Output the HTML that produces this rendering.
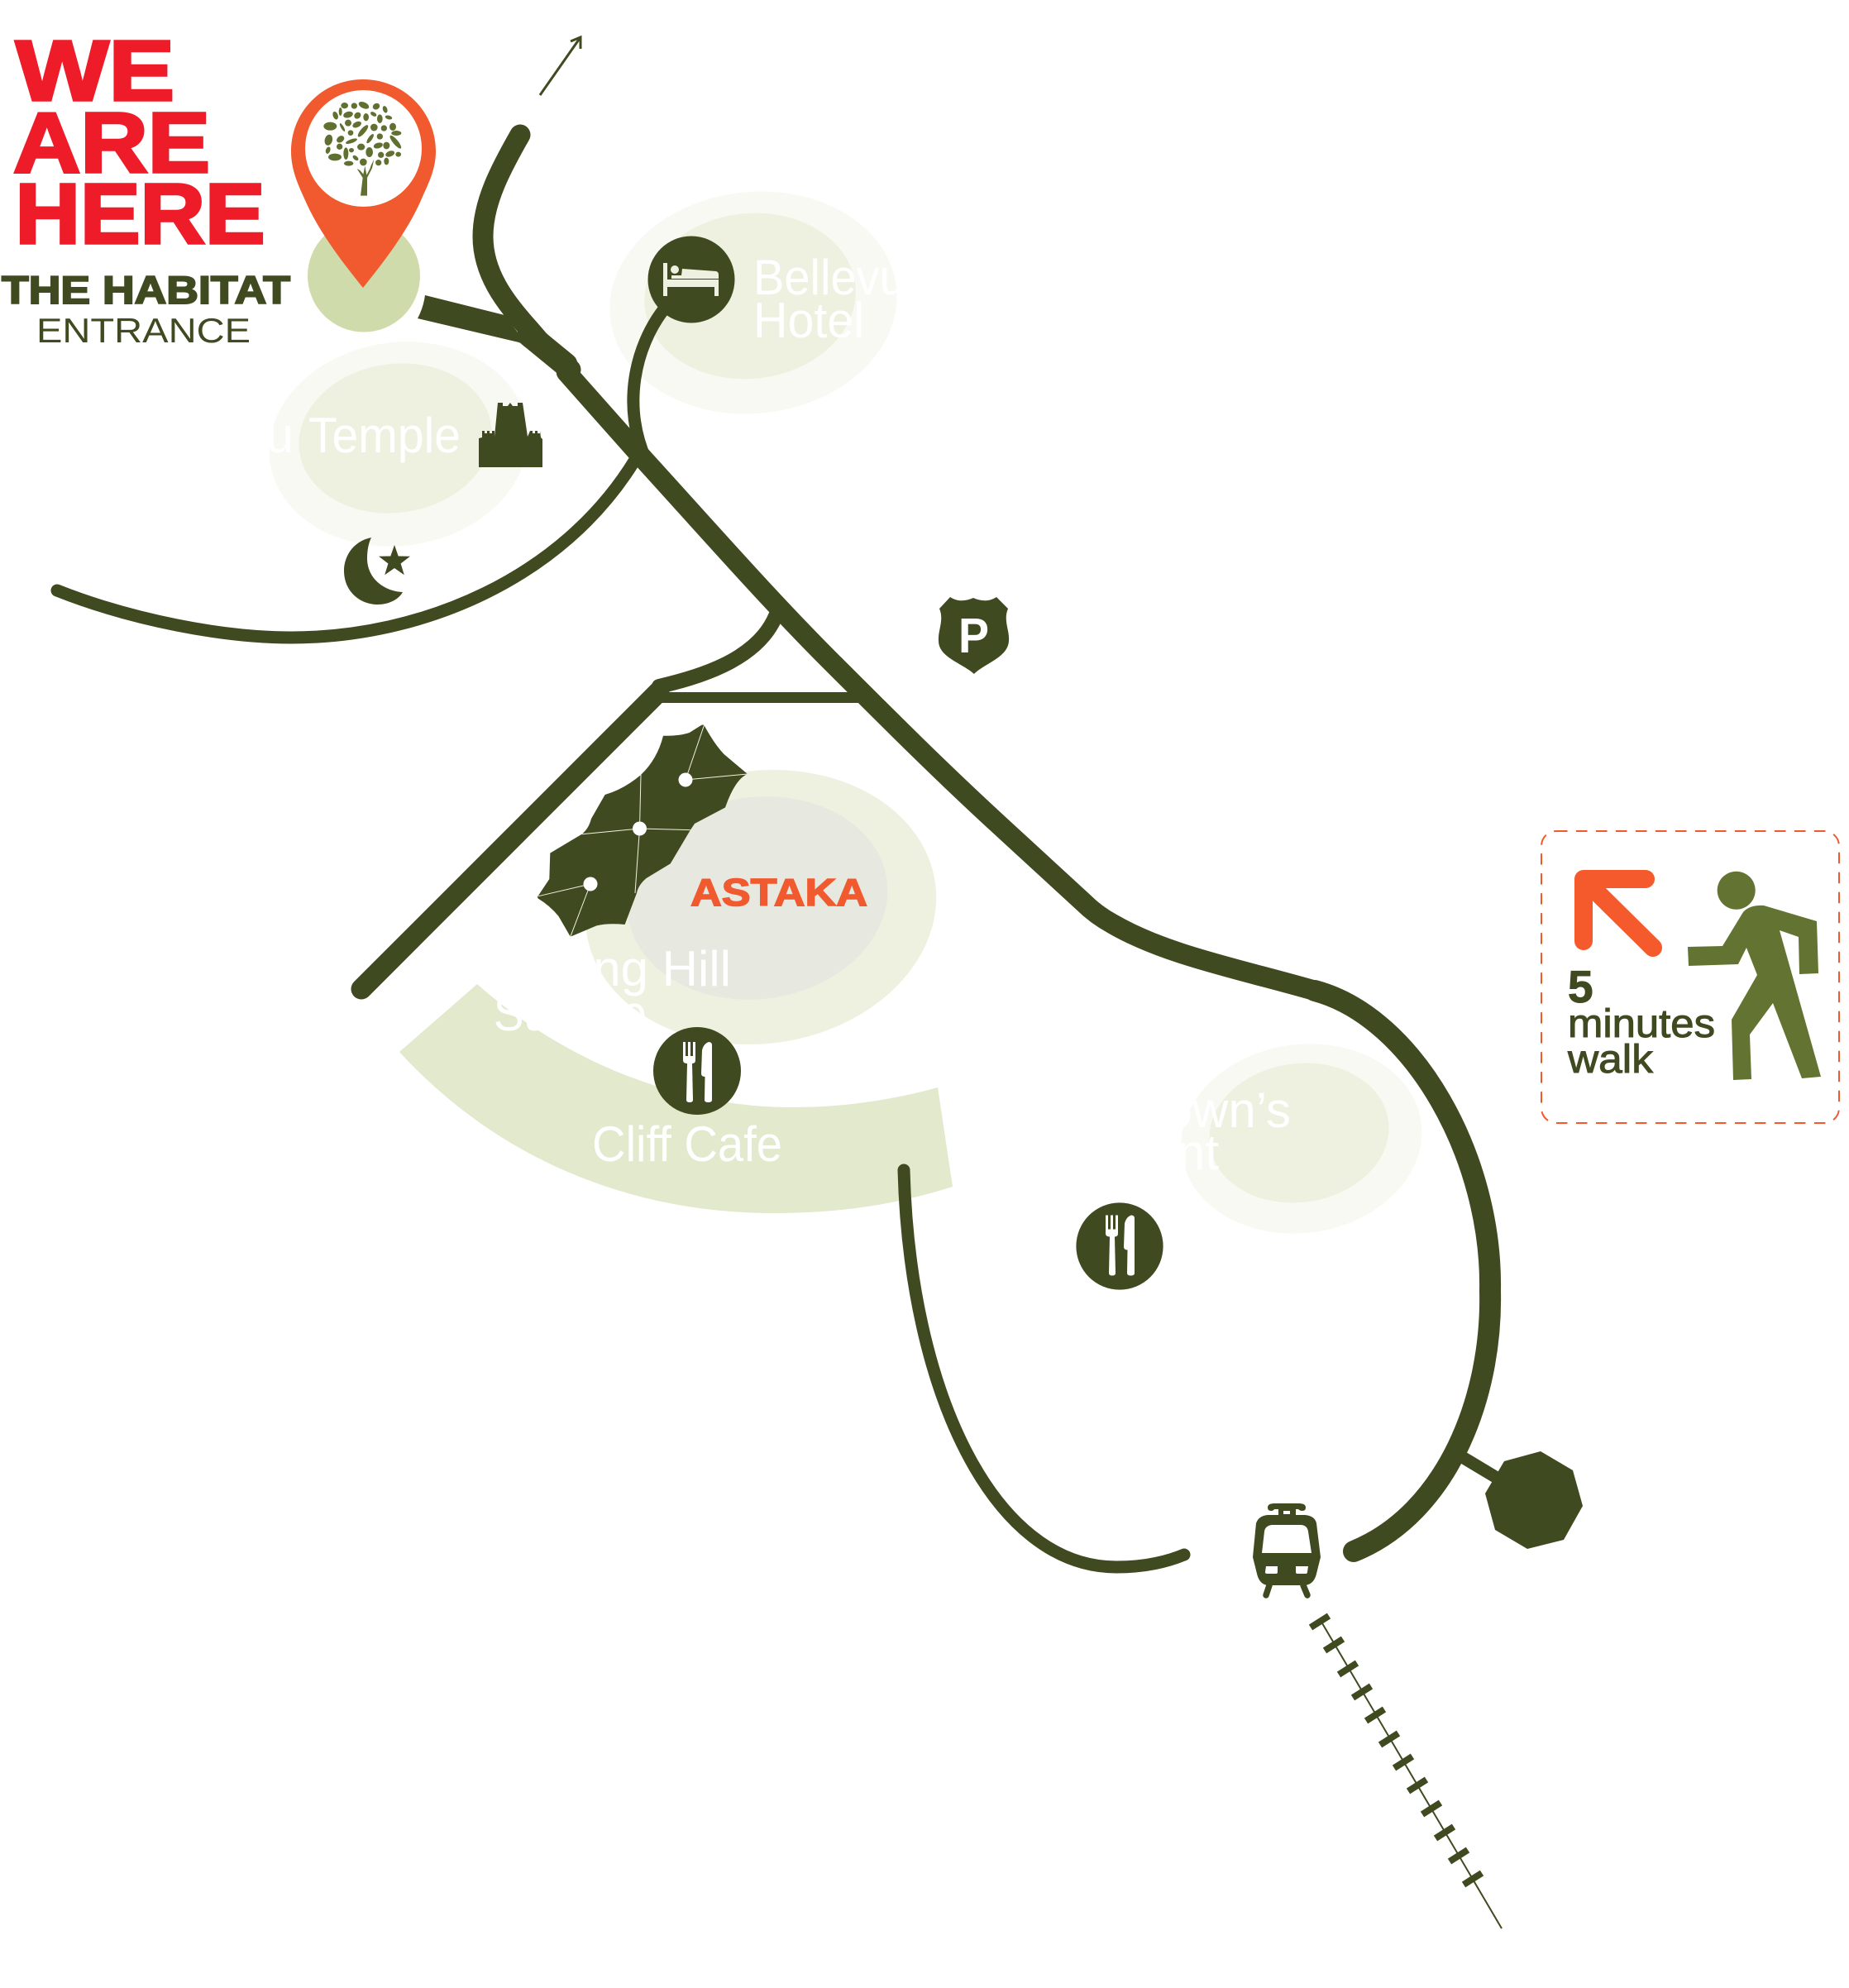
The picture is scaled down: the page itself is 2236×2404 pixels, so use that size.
<!DOCTYPE html>
<html><head><meta charset="utf-8"><style>
html,body{margin:0;padding:0;background:#fff}
svg{display:block}
text{font-family:"Liberation Sans",sans-serif}
.w{fill:#fff;font-size:60px}
</style></head><body>
<svg width="2236" height="2404" viewBox="0 0 2236 2404" xmlns="http://www.w3.org/2000/svg">
<!-- ellipses -->
<ellipse cx="911" cy="366" rx="174" ry="134" transform="rotate(-6 911 366)" fill="#f8f9f3"/>
<ellipse cx="907" cy="358" rx="128" ry="100" transform="rotate(-6 907 358)" fill="#eef1e0"/>
<ellipse cx="482" cy="537" rx="157" ry="123" transform="rotate(-8 482 537)" fill="#f8f9f3"/>
<ellipse cx="478" cy="530" rx="117" ry="90" transform="rotate(-8 478 530)" fill="#eef1e0"/>
<ellipse cx="920" cy="1097" rx="213" ry="165" transform="rotate(-8 920 1097)" fill="#eef1e0"/>
<ellipse cx="916" cy="1086" rx="158" ry="122" transform="rotate(-8 916 1086)" fill="#e7e8df"/>
<ellipse cx="1574" cy="1377" rx="146" ry="114" transform="rotate(-8 1574 1377)" fill="#f8f9f3"/>
<ellipse cx="1571" cy="1370" rx="109" ry="84" transform="rotate(-8 1571 1370)" fill="#eef1e0"/>
<path d="M577 1190C690 1290 830 1340 961 1339C1020 1339 1080 1330 1134 1315L1152 1435C1080 1458 1010 1467 936 1467C760 1467 600 1400 483 1272Z" fill="#e2e9cd"/>
<!-- white labels -->
<text class="w" x="911" y="356" textLength="215" lengthAdjust="spacingAndGlyphs">Bellevue</text>
<text class="w" x="911" y="408" textLength="134" lengthAdjust="spacingAndGlyphs">Hotel</text>
<text class="w" x="355" y="547" text-anchor="end">Vishnu</text>
<text class="w" x="373" y="547" textLength="184" lengthAdjust="spacingAndGlyphs">Temple</text>
<text class="w" x="884" y="1192" text-anchor="end">Sterling Hill</text>
<text class="w" x="597" y="1246" textLength="185" lengthAdjust="spacingAndGlyphs">Sunrise</text>
<text class="w" x="716" y="1404" textLength="230" lengthAdjust="spacingAndGlyphs">Cliff Cafe</text>
<text class="w" x="1561" y="1363" text-anchor="end">Brown’s</text>
<text class="w" x="1474" y="1414" text-anchor="end">Restaurant</text>
<!-- heading -->
<g fill="#ee1c29" stroke="#ee1c29" stroke-width="3.5" font-weight="700" font-size="103">
<text x="19" y="121" textLength="192" lengthAdjust="spacingAndGlyphs">WE</text>
<text x="16" y="208" textLength="238" lengthAdjust="spacingAndGlyphs">ARE</text>
<text x="18.500" y="294" textLength="302" lengthAdjust="spacingAndGlyphs">HERE</text>
</g>
<text x="2" y="367" textLength="349" lengthAdjust="spacingAndGlyphs" font-size="47" font-weight="700" fill="#404a20" stroke="#404a20" stroke-width="2">THE HABITAT</text>
<text x="44" y="414" textLength="259" lengthAdjust="spacingAndGlyphs" font-size="42" fill="#404a20">ENTRANCE</text>
<!-- entrance marker -->
<circle cx="440" cy="333.5" r="68" fill="#cfdbaa"/>
<path d="M439 96C390 96 352 135 352 183C352 205 360 222 368 240C385 280 415 318 439 348C463 318 493 280 510 240C518 222 527 205 527 183C527 135 488 96 439 96Z" fill="#f15a2e"/>
<circle cx="439.5" cy="179.5" r="70.5" fill="#fff"/>
<!-- tree, drawn in 3x crop space -->
<g transform="translate(370 100) scale(.33333)" fill="#5f7030">
<path d="M198 410L206 345L185 312L196 318L208 332L214 302L220 335L232 312L236 300L247 278L240 310L222 345L222 410Z"/>
<ellipse cx="140" cy="83" rx="13" ry="11"/><circle cx="175" cy="84" r="11"/><ellipse cx="210" cy="82" rx="20" ry="11" transform="rotate(25 210 82)"/><ellipse cx="255" cy="86" rx="13" ry="11" transform="rotate(-30 255 86)"/><ellipse cx="287" cy="97" rx="8" ry="13" transform="rotate(-20 287 97)"/>
<ellipse cx="125" cy="105" rx="6" ry="15"/><ellipse cx="153" cy="116" rx="18" ry="11" transform="rotate(-15 153 116)"/><ellipse cx="107" cy="119" rx="9" ry="15" transform="rotate(-20 107 119)"/><ellipse cx="187" cy="119" rx="13" ry="11" transform="rotate(-40 187 119)"/><ellipse cx="218" cy="125" rx="10" ry="14"/><ellipse cx="245" cy="114" rx="12" ry="7" transform="rotate(30 245 114)"/><ellipse cx="268" cy="131" rx="10" ry="16"/><ellipse cx="300" cy="126" rx="13" ry="7" transform="rotate(15 300 126)"/>
<ellipse cx="88" cy="158" rx="24" ry="15"/><ellipse cx="132" cy="162" rx="5" ry="17" transform="rotate(-30 132 162)"/><circle cx="153" cy="146" r="12"/><ellipse cx="185" cy="152" rx="17" ry="10" transform="rotate(-25 185 152)"/><ellipse cx="207" cy="175" rx="9" ry="27" transform="rotate(40 207 175)"/><circle cx="247" cy="162" r="13"/><circle cx="283" cy="165" r="11"/><ellipse cx="315" cy="160" rx="12" ry="14"/><ellipse cx="328" cy="183" rx="18" ry="9"/>
<circle cx="162" cy="182" r="10"/><circle cx="268" cy="195" r="11"/><ellipse cx="82" cy="208" rx="14" ry="20" transform="rotate(15 82 208)"/><ellipse cx="125" cy="205" rx="15" ry="11" transform="rotate(-35 125 205)"/><ellipse cx="165" cy="212" rx="22" ry="7" transform="rotate(-20 165 212)"/><ellipse cx="233" cy="203" rx="7" ry="20" transform="rotate(35 233 203)"/><ellipse cx="325" cy="215" rx="9" ry="30" transform="rotate(-40 325 215)"/>
<circle cx="122" cy="232" r="11"/><ellipse cx="80" cy="245" rx="8" ry="13" transform="rotate(20 80 245)"/><ellipse cx="200" cy="233" rx="14" ry="12"/><ellipse cx="262" cy="228" rx="17" ry="10" transform="rotate(-15 262 228)"/><ellipse cx="292" cy="228" rx="12" ry="13"/>
<ellipse cx="145" cy="257" rx="9" ry="22"/><ellipse cx="165" cy="245" rx="9" ry="8"/><ellipse cx="230" cy="252" rx="13" ry="18"/><ellipse cx="305" cy="258" rx="17" ry="10" transform="rotate(-20 305 258)"/><ellipse cx="335" cy="260" rx="10" ry="9"/>
<ellipse cx="105" cy="270" rx="24" ry="13"/><ellipse cx="180" cy="273" rx="12" ry="7" transform="rotate(40 180 273)"/><circle cx="272" cy="262" r="11"/><ellipse cx="155" cy="293" rx="17" ry="9"/><circle cx="208" cy="288" r="13"/><circle cx="263" cy="290" r="11"/><ellipse cx="292" cy="285" rx="9" ry="13"/>
</g>
<path d="M653 115L702 45M690 50L702 45L702 59" fill="none" stroke="#404a20" stroke-width="3"/>
<!-- roads -->
<g fill="none" stroke="#404a20" stroke-linecap="round" stroke-linejoin="round">
<path d="M629 163C605 205 584 245 584 286C584 330 610 365 640 398L652 412L690 447" stroke-width="25"/>
<path d="M640 405L684 441" stroke-width="29"/>
<path d="M685 450L779 556C860 645 930 725 1005 800C1075 870 1140 935 1211 1000L1310 1091Q1325 1106 1345 1117C1410 1155 1500 1172 1590 1198" stroke-width="24.500"/>
<path d="M1590 1198C1710 1230 1805 1400 1802 1561C1805 1690 1750 1830 1637 1876" stroke-width="26"/>
<path d="M69 714C160 750 270 771 352 771C510 771 680 700 768 556" stroke-width="15"/>
<path d="M802 375C768 420 752 490 781 556" stroke-width="15"/>
<path d="M1093 1415C1100 1680 1200 1895 1350 1895C1380 1895 1408 1890 1432 1880" stroke-width="15"/>
<path d="M437 1196L797 836" stroke-width="25"/>
<path d="M797 830C840 820 915 800 938 745" stroke-width="18"/>
<path d="M797 843.5L1038 843.5" stroke-width="13" stroke-linecap="butt"/>
<path d="M1760 1757L1815 1790" stroke-width="15" stroke-linecap="butt"/>
</g>
<path d="M514 357L610 381L640 420L627.5 414L505 385Q512 372 514 357Z" fill="#404a20"/>
<polygon points="1819,1767 1863,1755 1902,1778 1914,1821 1891,1862 1847,1873 1808,1850 1796,1806" fill="#404a20"/>
<!-- hotel -->
<circle cx="836" cy="338" r="52.5" fill="#404a20"/>
<g fill="#eef1e0">
<path d="M802 318h5v20h62v20h-5v-11h-57v11h-5Z"/><circle cx="816" cy="326" r="5"/>
<path d="M825 325L866 328Q869 329 869 332V337L812 337V333H824Z"/>
</g>
<!-- temple -->
<path d="M579 565V530L583 529V521h3v3h3v-3h3v3h3v-3h3L598 528L602 487h6v4h6l3-4l3 4h6v-4h6L638 528L641 521h3v3h3v-3h3v3h3v-3L654 529L656 531V565Z" fill="#404a20"/>
<!-- mosque -->
<path d="M449 650C425 655 416 675 416 690C416 715 435 731 457 731C470 731 482 725 487 716C465 715 444 700 444 675C444 665 446 656 449 650Z" fill="#404a20"/>
<polygon points="477,659 481.7,672.5 496,672.8 484.6,681.5 488.8,695.2 477,687 465.2,695.2 469.4,681.5 458,672.8 472.3,672.5" fill="#404a20"/>
<!-- police -->
<path d="M1149 722C1158 728 1168 727 1177 723C1186 727 1196 728 1205 722L1219 736C1213 750 1221 762 1220 775C1219 795 1191 802 1178 815C1164 802 1135 795 1135 775C1134 762 1142 750 1136 736Z" fill="#404a20"/>
<text x="1159" y="789" font-size="59" font-weight="700" fill="#fff" textLength="37" lengthAdjust="spacingAndGlyphs">P</text>
<!-- astaka leaf -->
<path d="M851.5 877Q864 900 875.5 912L904 936Q889 942 877 976.5L840 996L834.7 1004L810.7 1044.4L781.6 1062Q772 1070 770 1080L755.6 1118Q735 1116 721.4 1119.4L689.8 1132.7L675.5 1108Q665 1095 651 1086.7Q649 1085 651 1083L664.3 1063L665.3 1031.6L703.6 1008.7Q712 1002 715 990L731.6 961Q755 954 775 937Q795 918 802 889.8Q822 890 833.7 886L848 877Q850 876 851.5 877Z" fill="#404a20"/>
<g stroke="#eef1e0" stroke-width="1" fill="none"><path d="M829 943L851.5 877M829 943L904 936M773.5 1002L775 937M773.5 1002L703.6 1008.7M773.5 1002L834.7 1003.6M773.5 1002L768 1080M714 1069L651 1083.7M714 1069L689.8 1132.7"/></g>
<g fill="#fff"><circle cx="829" cy="943" r="8.5"/><circle cx="773.5" cy="1002" r="8.5"/><circle cx="714" cy="1069" r="8.5"/></g>
<text x="835" y="1095" textLength="214" lengthAdjust="spacingAndGlyphs" font-size="46" font-weight="700" fill="#f15a2e" stroke="#f15a2e" stroke-width="1.5">ASTAKA</text>
<!-- restaurants -->
<circle cx="843" cy="1295" r="53" fill="#404a20"/>
<g fill="#fff">
<path d="M826 1260h3v17h3v-17h3v17h3v-17h3v22q0 4-4 4L838 1330q0 3-4 3q-4 0-4-3L831 1286q-5 0-5-4Z"/>
<path d="M848 1298L849 1270Q851 1262 857 1260Q861 1260 861 1264V1330Q861 1333 856.500 1333Q852 1333 852 1330L852.500 1302Q848 1302 848 1298Z"/>
</g>
<circle cx="1354" cy="1507" r="52.6" fill="#404a20"/>
<g fill="#fff" transform="translate(511 209.5)">
<path d="M826 1260h3v17h3v-17h3v17h3v-17h3v22q0 4-4 4L838 1330q0 3-4 3q-4 0-4-3L831 1286q-5 0-5-4Z"/>
<path d="M848 1298L849 1270Q851 1262 857 1260Q861 1260 861 1264V1330Q861 1333 856.500 1333Q852 1333 852 1330L852.500 1302Q848 1302 848 1298Z"/>
</g>
<!-- train -->
<g fill="#404a20">
<path d="M1533 1823Q1533 1818 1541 1818H1571Q1579 1818 1579 1823Q1579 1827 1575 1827Q1572 1827 1570 1825L1567 1825V1832H1578Q1590 1833 1592 1842L1597 1883L1592 1903Q1589 1916 1578 1917H1533Q1523 1916 1520 1903L1515 1883L1519 1842Q1522 1833 1533 1832H1546V1825H1541Q1540 1827 1537 1827Q1533 1827 1533 1823Z"/>
</g>
<path d="M1538 1844H1574Q1581 1845 1582 1852L1586 1878H1526L1529 1852Q1530 1845 1538 1844Z" fill="#fff"/>
<rect x="1552" y="1827" width="8" height="4" fill="#fff"/>
<path d="M1531 1894H1545V1901Q1545 1903 1543 1903H1532Q1530 1903 1530 1901Z" fill="#fff"/>
<path d="M1567 1894H1582L1581 1901Q1581 1903 1579 1903H1569Q1567 1903 1567 1901Z" fill="#fff"/>
<path d="M1535 1917L1531 1929M1576 1917L1581 1929" stroke="#404a20" stroke-width="7.500" stroke-linecap="round" fill="none"/>
<!-- rail -->
<path d="M1599 1963L1816 2332" stroke="#404a20" stroke-width="2" fill="none"/>
<g stroke="#404a20" stroke-width="8" fill="none">
<path d="M1585 1968L1607 1954"/><path d="M1602 1996L1624 1982"/><path d="M1619 2025L1641 2011"/><path d="M1636 2053L1658 2039"/><path d="M1652 2081L1674 2067"/><path d="M1669 2110L1691 2096"/><path d="M1686 2138L1708 2124"/><path d="M1703 2166L1725 2152"/><path d="M1720 2194L1742 2180"/><path d="M1736 2223L1758 2209"/><path d="M1753 2251L1775 2237"/><path d="M1770 2279L1792 2265"/>
</g>
<!-- walk box -->
<rect x="1864" y="1005" width="360" height="353" rx="18" fill="none" stroke="#f15a2e" stroke-width="2" stroke-dasharray="13.500 10.500"/>
<path d="M1990 1063H1915V1138M1915 1063L1999 1146" fill="none" stroke="#f45a2b" stroke-width="22" stroke-linecap="round" stroke-linejoin="round"/>
<circle cx="2099.700" cy="1076.700" r="23" fill="#637331"/>
<path d="M2041 1145L2083 1144L2108 1103Q2116 1094 2133 1095L2197 1114L2199 1177L2176 1178L2175 1133L2152 1125L2202 1302L2179 1304L2144 1213L2116 1251L2118 1305L2096 1306L2094 1233L2125 1179L2112 1146L2102 1166L2042 1168Z" fill="#637331"/>
<g fill="#404a20" stroke="#404a20">
<text x="1896" y="1212" font-size="55" font-weight="700" stroke-width="1">5</text>
<text x="1896" y="1254" font-size="48" stroke-width="1" textLength="178" lengthAdjust="spacingAndGlyphs">minutes</text>
<text x="1896" y="1297" font-size="48" stroke-width="1" textLength="103" lengthAdjust="spacingAndGlyphs">walk</text>
</g>
</svg>
</body></html>
